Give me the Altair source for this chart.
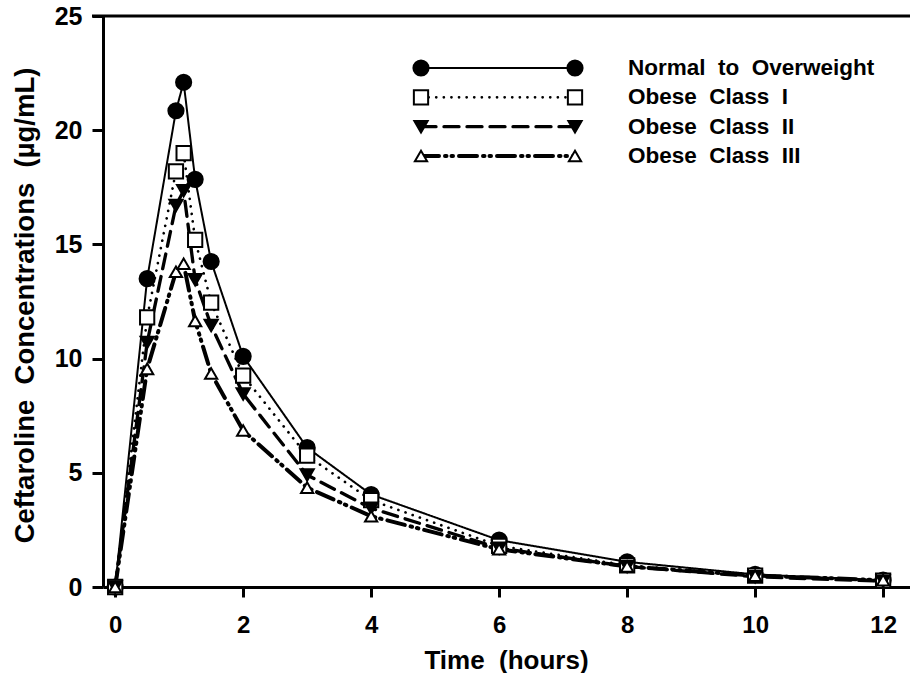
import altair as alt
import pandas as pd

times = [0, 0.5, 0.95, 1.07, 1.25, 1.5, 2, 3, 4, 6, 8, 10, 12]
normal = [0, 13.5, 20.85, 22.1, 17.85, 14.25, 10.1, 6.1, 4.05, 2.05, 1.1, 0.55, 0.3]
class1 = [0, 11.8, 18.2, 19.0, 15.2, 12.45, 9.25, 5.75, 3.8, 1.8, 0.95, 0.5, 0.28]
class2 = [0, 10.7, 16.7, 17.35, 13.45, 11.45, 8.45, 4.9, 3.45, 1.7, 0.9, 0.45, 0.25]
class3 = [0, 9.55, 13.8, 14.15, 11.65, 9.35, 6.85, 4.35, 3.1, 1.65, 0.9, 0.5, 0.3]

series_names = ["Normal to Overweight", "Obese Class I", "Obese Class II", "Obese Class III"]
NB = "\u00a0\u00a0"
legend_labels = [f"Normal{NB}to{NB}Overweight", f"Obese{NB}Class{NB}I",
                 f"Obese{NB}Class{NB}II", f"Obese{NB}Class{NB}III"]
x_ticks = [0, 2, 4, 6, 8, 10, 12]
y_ticks = [0, 5, 10, 15, 20, 25]
x_title = f"Time{NB}(hours)"
y_title = f"Ceftaroline{NB}Concentrations{NB}(µg/mL)"

rows = []
for name, vals in zip(series_names, [normal, class1, class2, class3]):
    for t, v in zip(times, vals):
        rows.append({"series": name, "time": t, "conc": v})
df = pd.DataFrame(rows)

leg_rows = []
for i, (name, lab) in enumerate(zip(series_names, legend_labels)):
    for e in [0, 1]:
        leg_rows.append({"series": name, "label": lab, "row": i, "end": e})
leg = pd.DataFrame(leg_rows)

dash_scale = alt.Scale(domain=series_names, range=[[1, 0], [0.1, 7.5], [15, 8], [18, 6, 1.5, 5, 1.5, 6]])
width_scale = alt.Scale(domain=series_names, range=[2, 4, 2, 2])
shape_scale = alt.Scale(domain=series_names, range=["circle", "square", "triangle-down", "triangle-up"])
fill_scale = alt.Scale(domain=series_names, range=["black", "white", "black", "white"])
size_scale = alt.Scale(domain=series_names, range=[230, 150, 180, 180])

FONT = "Liberation Sans"
W, H = 807, 571

xs = alt.Scale(domain=[-0.19, 12.42], nice=False, zero=False)
ys = alt.Scale(domain=[0, 25], nice=False)

lines = alt.Chart(df).mark_line(color="black", strokeCap="round").encode(
    x=alt.X("time:Q", scale=xs, axis=alt.Axis(
        values=x_ticks, format="d", title=x_title, grid=False, domainWidth=3, domainColor="black",
        tickWidth=3, tickSize=10, tickColor="black", labelFontSize=24, labelFontWeight="bold",
        labelFont=FONT, labelColor="black", labelPadding=16, titleFont=FONT, titleFontSize=26,
        titleFontWeight="bold", titleColor="black", titleX=403, titleY=73,
        titleBaseline="middle", titleAlign="center")),
    y=alt.Y("conc:Q", scale=ys, axis=alt.Axis(
        values=y_ticks, title=y_title, grid=False, domainWidth=3,
        domainColor="black", tickWidth=3, tickSize=11, tickColor="black", labelFontSize=25,
        labelFontWeight="bold", labelFont=FONT, labelColor="black", labelPadding=10,
        titleFont=FONT, titleFontSize=27.5, titleFontWeight="bold", titleColor="black",
        titleAngle=-90, titleX=-78, titleY=289, titleBaseline="middle", titleAlign="center")),
    detail="series:N",
    strokeDash=alt.StrokeDash("series:N", scale=dash_scale, legend=None),
    strokeWidth=alt.StrokeWidth("series:N", scale=width_scale, legend=None),
    order=alt.Order("time:Q"),
)

points = alt.Chart(df).mark_point(stroke="black", strokeWidth=2, opacity=1, filled=False).encode(
    x=alt.X("time:Q", scale=xs),
    y=alt.Y("conc:Q", scale=ys),
    shape=alt.Shape("series:N", scale=shape_scale, legend=None),
    fill=alt.Fill("series:N", scale=fill_scale, legend=None),
    size=alt.Size("series:N", scale=size_scale, legend=None),
)

top_line = alt.Chart(pd.DataFrame({"a": [0]})).mark_rule(color="black", strokeWidth=3).encode(
    x=alt.value(-11), x2=alt.value(W), y=alt.value(0)
)

main = alt.layer(lines, points, top_line)

lx = alt.Scale(domain=[0, 1], range=[318, 472])
ly = alt.Scale(domain=[0, 3], range=[52, 140])

leg_lines = alt.Chart(leg).mark_line(color="black", strokeCap="round").encode(
    x=alt.X("end:Q", scale=lx, axis=None),
    y=alt.Y("row:Q", scale=ly, axis=None),
    detail="series:N",
    strokeDash=alt.StrokeDash("series:N", scale=dash_scale, legend=None),
    strokeWidth=alt.StrokeWidth("series:N", scale=width_scale, legend=None),
)
leg_points = alt.Chart(leg).mark_point(stroke="black", strokeWidth=2, opacity=1).encode(
    x=alt.X("end:Q", scale=lx, axis=None),
    y=alt.Y("row:Q", scale=ly, axis=None),
    shape=alt.Shape("series:N", scale=shape_scale, legend=None),
    fill=alt.Fill("series:N", scale=fill_scale, legend=None),
    size=alt.Size("series:N", scale=size_scale, legend=None),
)
leg_text = alt.Chart(leg[leg["end"] == 0]).mark_text(
    align="left", baseline="middle", font=FONT, fontSize=22.5, fontWeight="bold", color="black"
).encode(
    x=alt.value(525),
    y=alt.Y("row:Q", scale=ly, axis=None),
    text="label:N",
)

legend = alt.layer(leg_lines, leg_points, leg_text)

chart = alt.layer(main, legend).resolve_scale(x="independent", y="independent").properties(
    width=W, height=H,
    autosize=alt.AutoSizeParams(type="none"),
    padding={"left": 103, "top": 16, "right": 0, "bottom": 86},
).configure_view(stroke=None).configure(background="white")

chart.save("out.html", embed_options={"renderer": "svg", "actions": False})
